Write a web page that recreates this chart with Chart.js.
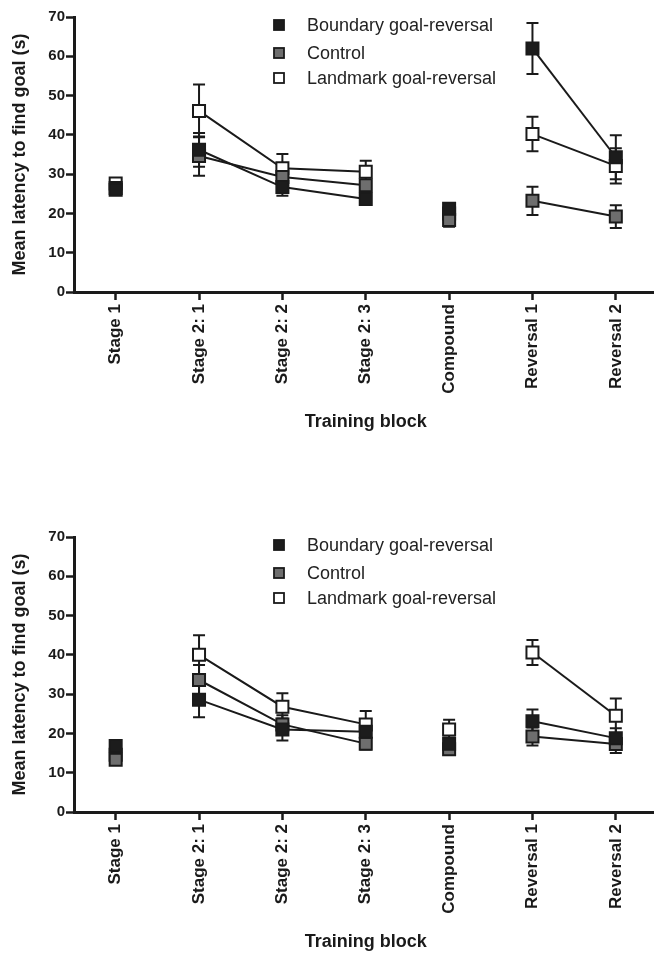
<!DOCTYPE html>
<html>
<head>
<meta charset="utf-8">
<script src="https://cdn.jsdelivr.net/npm/chart.js@4/dist/chart.umd.min.js"></script>
<style>
  html, body { margin: 0; padding: 0; background: #fff; overflow: hidden; }
  body { width: 654px; height: 954px; position: relative; }
  canvas { position: absolute; left: 0; }
  #chartTop { top: 0; }
  #chartBottom { top: 520px; }
</style>
</head>
<body>
<canvas id="chartTop" width="668" height="477"></canvas>
<canvas id="chartBottom" width="668" height="434"></canvas>
<script>
// categories (training blocks)
const blocks = ['Stage 1', 'Stage 2: 1', 'Stage 2: 2', 'Stage 2: 3', 'Compound', 'Reversal 1', 'Reversal 2'];
const groupNames = ['Boundary goal-reversal', 'Control', 'Landmark goal-reversal'];
const yTicks = [0, 10, 20, 30, 40, 50, 60, 70];

// top panel: means and error (SEM)
const topBoundary    = [26.0, 36.2, 26.7, 23.7, 21.2, 62.0, 34.3];
const topBoundaryErr = [1.0, 4.3, 2.2, 1.0, 1.3, 6.5, 5.6];
const topControl     = [26.5, 34.6, 29.3, 27.2, 18.3, 23.2, 19.2];
const topControlErr  = [1.0, 5.0, 2.5, 1.3, 1.7, 3.6, 2.9];
const topLandmark    = [27.6, 46.1, 31.5, 30.6, 20.0, 40.2, 32.1];
const topLandmarkErr = [0.8, 6.7, 3.6, 2.8, 1.5, 4.4, 4.5];

// bottom panel
const botBoundary    = [16.8, 28.6, 21.0, 20.4, 17.4, 23.1, 18.8];
const botBoundaryErr = [1.5, 4.5, 2.8, 1.5, 1.5, 3.0, 2.5];
const botControl     = [13.3, 33.6, 22.3, 17.4, 16.0, 19.2, 17.3];
const botControlErr  = [1.0, 3.8, 2.3, 1.5, 1.0, 2.3, 2.3];
const botLandmark    = [14.6, 40.0, 26.8, 22.3, 21.0, 40.6, 24.5];
const botLandmarkErr = [1.0, 5.0, 3.4, 3.4, 2.5, 3.2, 4.4];

const FONT = '"Liberation Sans", Arial, Helvetica, sans-serif';
const INK = '#1a1a1a';
const fills = ['#1c1c1c', '#6e6e6e', '#ffffff'];

// no line from Stage 1 -> Stage 2:1, or around Compound
const brokenAfter = [0, 3, 4];

const errorBars = {
    id: 'errorBars',
    beforeDatasetsDraw(chart) {
        const ctx = chart.ctx;
        const y = chart.scales.y;
        ctx.save();
        ctx.strokeStyle = INK;
        ctx.lineWidth = 2;
        chart.data.datasets.forEach((ds, i) => {
            const meta = chart.getDatasetMeta(i);
            meta.data.forEach((pt, j) => {
                const v = ds.data[j], e = ds.errors[j];
                if (v == null || !e) return;
                const top = y.getPixelForValue(v + e);
                const bot = y.getPixelForValue(v - e);
                ctx.beginPath();
                ctx.moveTo(pt.x, top); ctx.lineTo(pt.x, bot);
                ctx.moveTo(pt.x - 6, top); ctx.lineTo(pt.x + 6, top);
                ctx.moveTo(pt.x - 6, bot); ctx.lineTo(pt.x + 6, bot);
                ctx.stroke();
            });
        });
        ctx.restore();
    }
};

const squareLegend = {
    id: 'squareLegend',
    afterDraw(chart) {
        const ctx = chart.ctx;
        ctx.save();
        const rows = [25, 53, 78];
        groupNames.forEach((name, i) => {
            ctx.fillStyle = fills[i];
            ctx.strokeStyle = INK;
            ctx.lineWidth = 1.8;
            ctx.fillRect(274, rows[i] - 5, 10, 10);
            ctx.strokeRect(274, rows[i] - 5, 10, 10);
            ctx.fillStyle = '#222';
            ctx.font = '18px ' + FONT;
            ctx.textBaseline = 'middle';
            ctx.fillText(name, 307, rows[i] + 1);
        });
        ctx.restore();
    }
};

function makeChart(id, series, errs, bottomPad) {
    return new Chart(document.getElementById(id), {
        type: 'line',
        data: {
            labels: blocks,
            datasets: series.map((s, i) => ({
                label: groupNames[i],
                data: s,
                errors: errs[i],
                borderColor: INK,
                borderWidth: 2,
                backgroundColor: fills[i],
                pointStyle: 'rect',
                pointRadius: 8.5,
                pointBorderWidth: 2,
                pointBorderColor: INK,
                pointBackgroundColor: fills[i],
                segment: {
                    borderColor: c => brokenAfter.includes(c.p0DataIndex) ? 'rgba(0,0,0,0)' : undefined
                }
            }))
        },
        options: {
            responsive: false,
            animation: false,
            events: [],
            layout: { padding: { left: 0, right: 0, top: 17, bottom: bottomPad } },
            plugins: { legend: { display: false }, tooltip: { enabled: false } },
            scales: {
                x: {
                    offset: true,
                    afterFit: s => { s.height = 141; },
                    border: { color: INK, width: 3 },
                    grid: { drawOnChartArea: false, offset: false, tickLength: 8, tickColor: INK, tickWidth: 2.5 },
                    ticks: { minRotation: 90, maxRotation: 90, padding: 4, color: INK, font: { family: FONT, size: 17, weight: 'bold' } },
                    title: { display: true, text: 'Training block', color: INK, padding: { top: 0, bottom: 0 }, font: { family: FONT, size: 18, weight: 'bold' } }
                },
                y: {
                    min: 0, max: 70,
                    afterFit: s => { s.width = 74; },
                    afterBuildTicks: s => { s.ticks = yTicks.map(v => ({ value: v })); },
                    border: { color: INK, width: 3 },
                    grid: { drawOnChartArea: false, tickLength: 8, tickColor: INK, tickWidth: 2.5 },
                    ticks: { padding: 1, color: INK, font: { family: FONT, size: 15, weight: 'bold' } },
                    title: { display: true, text: 'Mean latency to find goal (s)', color: INK, padding: { top: 9, bottom: 0 }, font: { family: FONT, size: 18, weight: 'bold' } }
                }
            }
        },
        plugins: [errorBars, squareLegend]
    });
}

makeChart('chartTop', [topBoundary, topControl, topLandmark], [topBoundaryErr, topControlErr, topLandmarkErr], 44);
makeChart('chartBottom', [botBoundary, botControl, botLandmark], [botBoundaryErr, botControlErr, botLandmarkErr], 1);
</script>
</body>
</html>
